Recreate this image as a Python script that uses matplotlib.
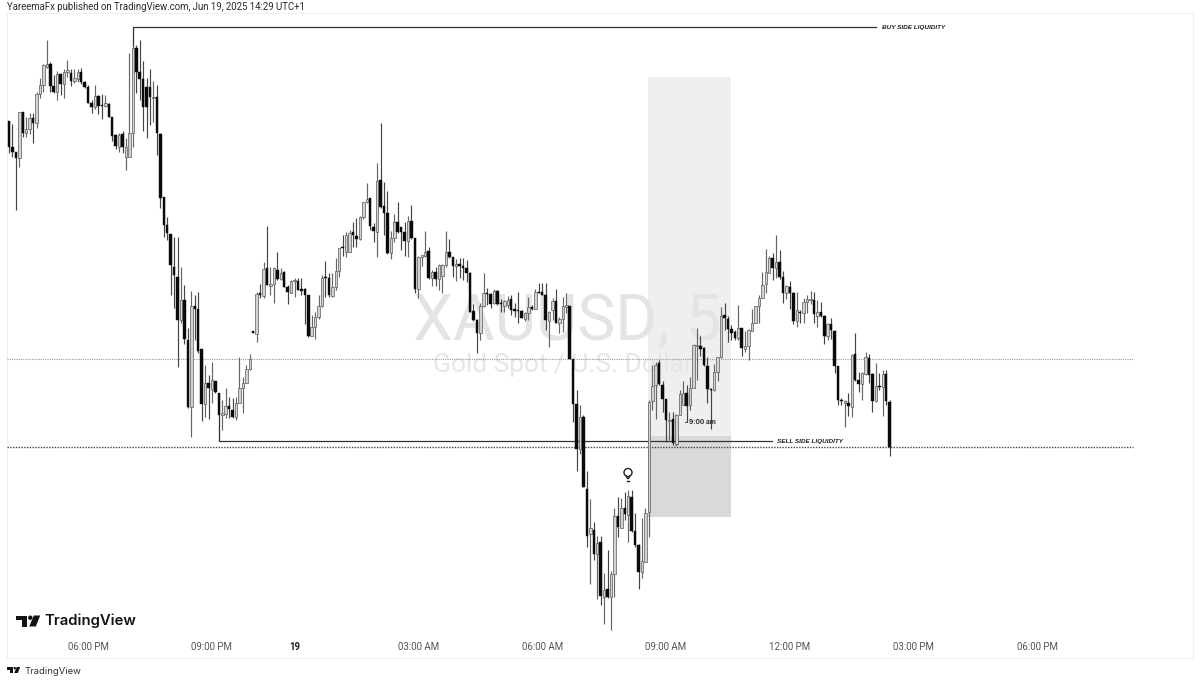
import numpy as np
import matplotlib
matplotlib.use('Agg')
import matplotlib.pyplot as plt
from matplotlib.patches import Polygon, Rectangle, Circle

# candle data (vertical scale is the chart's own, smaller = higher price)
direction = ("DDDUDUUDUU" "UUDDUDUUDU" "UDDDDUDDUD" "DDUDUUUDDD"
             "DDUDDDDDDD" "UDDUDDDUDU" "DDUUDDUUUU" "UDUDUDUUDU"
             "DDUUDDDDUU" "UUDDUUUDUU" "DDUUUDDUDD" "DUUDDDUDDU"
             "UUDUDUUUDD" "UDDDDDDUUD" "DUDDUUDDDD" "UUDUDDDUUD"
             "UUUDDDUDDU" "DUDUDUUDUD" "UDDDUUUUUD" "DDUDUUUDUU"
             "UDDDDUUUDD" "DDUDUUUUUU" "UUDUDDUDDU" "DUUUDUDDUD"
             "DDDUDUDDUU" "DDUDUDD")
body_top = [121,146.7,152.3,112,112.3,129,118.3,117.7,94,85,
            65,64.3,64.3,85.7,74,74.3,71.7,70,72.7,78.3,
            71.7,71.7,82.3,87.3,102.7,96,96,105,103.3,104,
            117.3,135,135,134.3,146.7,132.7,47.7,47.7,71.7,79,
            87.3,87.3,97.3,97.3,134,196.7,225,234,266.7,276.7,
            300,300,340,306,306,309,349.3,383.3,382.7,380,
            381,392.7,413.3,406,406,410,402.7,387.7,383.3,369.3,
            359.3,331,294,293.3,269,268.3,284.3,267.7,270,272.7,
            271.7,287.3,281,280,280.7,289.3,289.3,295,326.7,317.3,
            305.7,277.7,277.3,278.3,286.7,271,248.3,246.7,235,232.7,
            231.7,236,216.7,202.3,199,198.3,226.7,180.7,180,206,
            212.7,238.3,222.3,221.7,227.3,231.7,220.7,220.7,238.3,257.3,
            255,251.7,250.7,271.7,271.7,265,265,251.7,251.7,257.3,
            264.3,264.3,265.7,267.7,272.7,311,320,306,292.7,292.7,
            294.3,291,291,302.7,301,300,299.3,309.3,310,310.7,
            313.3,307.3,307.3,292.3,291.7,292.3,295,311.7,300.7,301,
            319.3,306,305,305.7,359.3,404,417.3,417.3,489,528.3,
            530,543.3,541.7,590,589.3,574.3,516,516,507.7,507.7,
            496,496.7,530.7,545,561,512.7,401.7,385.7,365,363.3,
            385,399.3,420,418.7,415,394.3,393.3,393.3,387.7,345,
            345,346,348.3,366,388.7,371.7,357.3,315.7,315,319.3,
            329.3,331.7,328.3,328.3,346,330,322.7,306,298.3,285,
            272.3,258.3,258.3,262.3,262.3,276.7,286,286.7,292.7,310,
            311.7,301.7,299.3,299,300,311.7,311.7,316,324,324.3,
            331,366,400,401,403.3,355,354.3,380,373.3,356.7,
            358.3,374.3,386,385.7,374.3,374.3,401.7]
body_bottom = [146.7,152.3,157.7,157.7,132.7,132.7,129,122.7,122.7,94,
               85,66.7,85.7,92.3,92.3,84,84,71.7,81,81,
               79,82.3,87.3,102.7,106.7,106.7,105.7,105.7,105.7,116.7,
               136,146,146.7,146.7,156.7,156.7,132.7,71.7,79,107.3,
               107.3,97.3,97.7,133.3,198.3,225,233.3,265,275,320,
               320,339.3,407.3,406.7,309,350.7,404,404,388.3,389.3,
               391.7,415,415.3,414,409,416.7,417.3,402.7,388,383.3,
               368.7,332.5,334,295,296,285,285.7,284.3,279.3,279.3,
               287.3,292.3,292.7,281,290,290.7,295,336,336,326.7,
               317.3,305.7,278.3,295,295.7,286.7,271,248.3,251.7,251.7,
               235,239,239.3,216.7,202.3,226,230.7,231.7,207.3,212.7,
               253.3,252.7,238.3,231.7,231.7,240.7,240.7,238.3,289.3,289.3,
               256.7,256,278.3,278.3,279.3,279.3,275.7,265,257.3,265.7,
               265.7,265.7,267.7,272.7,311.7,320,332.7,332.7,305.7,294,
               304,302.7,304,304,306,305,310,310.7,310.7,317.7,
               319,313.3,309.3,308.7,292.7,295,320,321,310,322.7,
               323.3,319.3,306.7,359,404,449.3,449.3,486.7,536,534,
               554,554,596,596.7,596.7,596.7,574.3,527.3,528.3,514,
               515,530.7,545,571.7,572.3,561.7,512.3,401,385,384.3,
               399.3,420,420.7,443.3,444,415,405,405.7,405,387.7,
               346,349,365,389.3,390,390,371.7,357.3,318.3,329.3,
               332.7,338.3,338.3,348.3,348.7,346,330.7,322.7,306,298.3,
               284.3,272.7,268.3,268.3,276.7,292.7,292.7,292.7,320.7,321.3,
               313.3,313.3,302.3,300,314.3,316,316,335.7,335.7,330,
               366,400,401,402.7,405.7,406.7,380,384.3,384,374,
               375,401,401,386.7,386.7,401,446.7]
wick_high = [121,124,152.3,112,111.7,116.7,113.3,112.7,91.7,78.3,
             64.3,40,61.7,75,70.7,73.3,69.3,60,69.3,69.3,
             69,68.3,81,85,100,85,95,94,94.7,103.3,
             117.3,134,132.7,130.7,138.3,53.3,45,45,40,60.7,
             78.3,69.3,81,85,133.3,196.7,217.3,234,237.3,237.3,
             266.7,285,328.3,291,295,291.7,349.3,365,375,361.7,
             380.7,392.7,400,388.3,396.7,398.3,396.7,357.3,376.7,365,
             354,331,291.7,284,261.7,226,266.7,266.7,251.7,268.3,
             270.7,285,280,277.7,278.3,278.3,288.3,295,315,311.7,
             295,275,260.7,273.3,272.7,258.3,248.3,235,231.7,230,
             221.7,218.3,216,201.7,182.7,198.3,222.7,162.7,123.3,182.3,
             190.7,230.7,214,202.3,226.7,221.7,215.7,205,238.3,256,
             255,230.7,247.3,270,266.7,264.3,264.3,230.7,239.3,257.3,
             259.3,258.3,258.3,260,271.7,304.3,319.3,302.7,273.3,288.3,
             293.3,289.3,290,299.3,300,296,295,303.3,291.7,310,
             311.7,296.7,305,289.3,283.3,282.7,283.3,310.7,298.3,289.3,
             317.3,296.7,292.7,305.7,359.3,390,405,415,470.7,499.3,
             521.7,536,536,573.3,550,570.7,508.3,497.3,498.3,491.7,
             490,490,513.3,544,518.3,508.3,400,365,361.7,360,
             380.7,399.3,411.7,411.7,414,390,380.7,385,376.7,344.3,
             328.3,336,346.7,356.7,388.3,364,356.7,307.3,302.7,316,
             325,330,305,327.7,330.7,329.3,309.3,306,295,271.7,
             249.3,256,252.7,235,250,271,285,281,291.7,291.7,
             310,298.3,295,290.7,291.7,300,301.7,315,323.3,317.7,
             330,366,398.3,400,392.7,354,333.3,371.7,371.7,351.7,
             354,373.3,363.3,373.3,370,370,400]
wick_low = [152.7,156.7,210,166.7,136.7,136.7,134,143.3,128.3,98.3,
            91.7,68.3,91.7,93.3,100,95,98.3,76.7,86,83.3,
            81.7,84,88.3,103.3,112.7,109.3,114.3,118.7,107.3,117.3,
            140.7,149.3,151.7,153.3,170,156.7,147.3,92.7,100,130.7,
            138.3,125,121.7,155,208.3,236.7,240,295,308.3,366.7,
            323.3,344,408.3,436.7,340,352.7,420.7,416.7,419.3,403.3,
            392.7,415,430,418.3,418.3,418.3,420,402.7,413.3,383.3,
            370,332.5,341.7,298.3,298.3,285,295,302.7,280,280,
            287.3,304,293.3,296.7,290,295,324,336.7,336,339.3,
            319.3,306.7,296.7,296.7,296.7,290,276.7,256,256.7,251.7,
            247.3,247.3,240,219.3,203.3,230,241.7,256.7,208.3,235,
            254,259.3,241.7,232.7,250,256,256.7,239.3,292.7,297.7,
            266,256.7,279.3,285.7,286,290,293.3,267.3,258,276.7,
            280.7,278.3,280,281.7,311.7,321,352.7,340,306.7,305,
            308.3,304,305,311.7,311.7,308.3,315,316.7,322.7,318.3,
            321,320,310,309.3,293.3,295,330,346.7,320,323.3,
            333.3,331.7,312.7,359,421.7,470.7,454,487.3,546.7,584.3,
            560,599.3,605,624.3,598.3,630,596.7,536.7,528.3,520,
            541.7,531.7,546.7,589.3,578.3,561.7,537.3,410,419.3,385,
            411.7,441.7,440,445,446,415,405,421.7,410,388.3,
            380,356,366,403.3,429.3,390.7,380.7,358.3,330,341.7,
            340,340,340,356,351.7,360,331,323.3,323.3,298.3,
            293.3,273.3,280,278.3,279.3,303.3,299.3,309.3,324,326.7,
            322.7,323.3,313.3,304,323.3,327.3,317.3,344.3,340,339.3,
            372.7,405,405,426.7,416,417.3,380.7,391.7,400,375,
            382.7,411.7,401.7,390,416,405,456]

n_candles = min(len(direction), len(body_top), len(body_bottom), len(wick_high), len(wick_low))

# time axis labels, as candle number and text
tick_candles = [23, 59, 83, 119, 155, 191, 227, 263, 299]
tick_labels = ['06:00 PM', '09:00 PM', '19', '03:00 AM', '06:00 AM', '09:00 AM',
               '12:00 PM', '03:00 PM', '06:00 PM']

candle_step = 3.44
first_x = 9.0

plt.rcParams['font.family'] = ['Inter', 'Roboto', 'DejaVu Sans']

fig = plt.figure(figsize=(12, 6.84), dpi=100)
ax = fig.add_axes([0, 0, 1, 1])
ax.set_xlim(0, 1200)
ax.set_ylim(684, 0)
ax.axis('off')

# panel frame
ax.add_patch(Rectangle((7, 13), 1186, 645, fc='white', ec='#f0f0f0', lw=0.8, zorder=0))

# shaded zones
ax.add_patch(Rectangle((648, 77), 83, 359, fc='#efefef', ec='none', zorder=1))
ax.add_patch(Rectangle((648, 436), 83, 81, fc='#d9d9d9', ec='none', zorder=1))

# watermark
ax.text(413, 322, 'XAUUSD, 5', fontsize=46, color='#e4e4e4', va='center', ha='left',
        family=['Roboto', 'DejaVu Sans'], zorder=2)
ax.text(433, 365, 'Gold Spot / U.S. Dollar', fontsize=19, color='#e6e6e6', va='center', ha='left',
        family=['Roboto', 'DejaVu Sans'], zorder=2)

# horizontal dotted levels
ax.hlines(359, 7, 1133, color='#9a9a9a', lw=0.8, linestyles=(0, (1, 1)), zorder=3)
ax.hlines(446.5, 7, 1133, color='#444444', lw=1.0, linestyles=(0, (1, 1)), zorder=3)

# liquidity lines
ax.plot([132.5, 132.5, 876], [46, 27, 27], color='#333333', lw=0.9, zorder=3)
ax.plot([218.8, 218.8, 772], [415, 441, 441], color='#333333', lw=0.9, zorder=3)
ax.text(882, 27, 'BUY SIDE LIQUIDITY', fontsize=4.6, fontweight='bold', style='italic',
        color='#222222', va='center', family=['Liberation Sans'], zorder=6)
ax.text(777, 441, 'SELL SIDE LIQUIDITY', fontsize=4.6, fontweight='bold', style='italic',
        color='#222222', va='center', family=['Liberation Sans'], zorder=6)
ax.plot([685, 687], [421.5, 421.5], color='#444444', lw=0.7, zorder=3)
ax.text(689, 421.5, '9:00 am', fontsize=4.8, fontweight='bold', color='#333333', va='center', zorder=6)

# candles
x = first_x + candle_step * np.arange(n_candles)
top = np.array(body_top[:n_candles])
bottom = np.array(body_bottom[:n_candles])
hi = np.array(wick_high[:n_candles])
lo = np.array(wick_low[:n_candles])
is_up = np.array([d == 'U' for d in direction[:n_candles]])

ax.vlines(x[is_up], hi[is_up], lo[is_up], color='#666666', lw=0.85, zorder=4)
ax.vlines(x[~is_up], hi[~is_up], lo[~is_up], color='#444444', lw=0.85, zorder=4)
ax.bar(x[is_up], bottom[is_up] - top[is_up], width=2.5, bottom=top[is_up],
       color='#d2d2d2', edgecolor='#5a5a5a', linewidth=0.5, zorder=5)
ax.bar(x[~is_up], bottom[~is_up] - top[~is_up], width=2.5, bottom=top[~is_up],
       color='#0a0a0a', edgecolor='#0a0a0a', linewidth=0.3, zorder=5)

# bulb icon
ax.add_patch(Circle((628, 472.5), 4, fc='white', ec='#222222', lw=1.0, zorder=6))
ax.plot([626.3, 627.4, 628.6, 629.7], [476.3, 478.5, 478.5, 476.3], color='#222222', lw=1.0, zorder=6)
ax.plot([626.6, 629.4], [480.5, 480.5], color='#222222', lw=1.0, zorder=6)


def tv_logo(x0, y0, s):
    # TradingView mark drawn in units of its height
    ax.add_patch(Polygon([(x0, y0), (x0 + 1.0 * s, y0), (x0 + 1.0 * s, y0 + 1.0 * s),
                          (x0 + 0.5 * s, y0 + 1.0 * s), (x0 + 0.5 * s, y0 + 0.42 * s),
                          (x0, y0 + 0.42 * s)], fc='#131313', ec='none', zorder=7))
    ax.add_patch(Circle((x0 + 1.3 * s, y0 + 0.2 * s), 0.2 * s, fc='#131313', ec='none', zorder=7))
    ax.add_patch(Polygon([(x0 + 1.2 * s, y0 + 1.0 * s), (x0 + 1.62 * s, y0), (x0 + 2.2 * s, y0),
                          (x0 + 1.8 * s, y0 + 1.0 * s)], fc='#131313', ec='none', zorder=7))


# logos
tv_logo(16, 615.5, 11)
ax.text(44.5, 621, 'TradingView', fontsize=10.7, fontweight='semibold', color='#131313', va='center', zorder=7)
tv_logo(7, 667, 6)
ax.text(25, 671, 'TradingView', fontsize=6.8, color='#333333', va='center', zorder=7)

# header
ax.text(7, 6.5, 'YareemaFx published on TradingView.com, Jun 19, 2025 14:29 UTC+1', fontsize=6.93,
        color='#2a2a2a', va='center', family=['Roboto', 'DejaVu Sans'])

# time labels
for c, lab in zip(tick_candles, tick_labels):
    bold = lab == '19'
    ax.text(first_x + candle_step * c, 647.5, lab, fontsize=7, ha='center', va='center',
            fontweight='bold' if bold else 'normal', color='#222222' if bold else '#555555',
            family=['Roboto', 'DejaVu Sans'])

fig.savefig('out.png', dpi=100)
